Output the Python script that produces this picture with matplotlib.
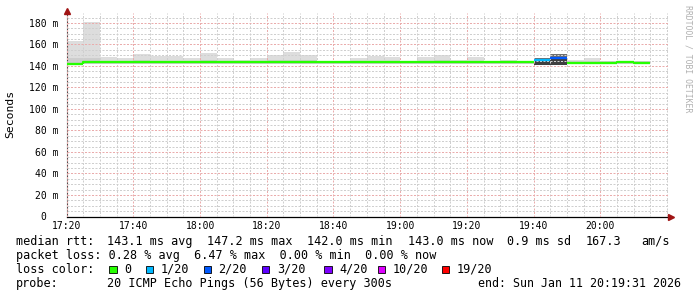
import matplotlib
matplotlib.use('Agg')
import matplotlib.pyplot as plt
from matplotlib.patches import Rectangle
import matplotlib.dates as mdates
import pandas as pd

plt.rcParams['font.family'] = 'DejaVu Sans Mono'

# --- data (5 minute bins from 17:20) ---
median_ms = [142.3, 143.3, 143.3, 143.3, 143.3, 143.3, 143.3, 143.3, 143.3, 143.3,
             143.3, 143.3, 143.3, 143.3, 143.3, 143.3, 143.3, 143.3, 143.3, 143.3,
             143.3, 143.3, 143.3, 143.3, 143.3, 143.3, 143.3, 143.3, 146.0, 147.2,
             142.6, 142.6, 142.6, 143.4, 143.1]
loss_count = [0, 0, 0, 0, 0, 0, 0, 0, 0, 0,
              0, 0, 0, 0, 0, 0, 0, 0, 0, 0,
              0, 0, 0, 0, 0, 0, 0, 0, 1, 2,
              0, 0, 0, 0, 0]
smoke_min = [141.6, 142.0, 142.0, 142.0, 142.0, 142.0, 142.0, 142.0, 142.0, 142.0,
             142.0, 142.0, 142.0, 142.0, 142.0, 142.0, 142.0, 142.0, 142.0, 142.0,
             142.0, 142.0, 142.0, 142.0, 142.0, 142.0, 142.0, 142.0, 141.3, 141.3,
             141.8, 141.8, 141.8, 142.0, 142.0]
smoke_mid = [147.0, 147.5, 145.0, 145.0, 145.5, 145.0, 145.0, 145.0, 145.5, 145.0,
             144.8, 145.0, 145.5, 145.5, 145.5, 144.5, 144.3, 145.0, 145.0, 145.0,
             144.3, 145.0, 145.5, 144.8, 145.0, 144.3, 144.8, 144.3, 145.0, 147.2,
             144.5, 145.0, 144.5, 144.3, 144.5]
smoke_max = [163.0, 181.0, 148.0, 147.0, 151.0, 149.0, 149.0, 147.0, 152.0, 147.0,
             146.0, 147.0, 150.0, 153.0, 150.5, 145.0, 144.5, 147.0, 149.0, 148.0,
             144.5, 148.0, 150.5, 146.0, 148.0, 144.5, 146.0, 144.5, 147.0, 151.0,
             145.5, 147.5, 145.0, 144.5, 145.0]

tick_labels = ['17:20', '17:40', '18:00', '18:20', '18:40', '19:00', '19:20', '19:40', '20:00']
y_ticks = [0, 20, 40, 60, 80, 100, 120, 140, 160, 180]
y_tick_labels = ['0  ', '20 m', '40 m', '60 m', '80 m', '100 m', '120 m', '140 m', '160 m', '180 m']

loss_levels = [0, 1, 2, 3, 4, 10, 19]
loss_labels = ['0', '1/20', '2/20', '3/20', '4/20', '10/20', '19/20']
loss_colors = ['#26ff00', '#00b8ff', '#0059ff', '#5e00ff', '#7e00ff', '#dd00ff', '#ff0000']

rtt_parts = ['median rtt:', '143.1 ms avg', '147.2 ms max', '142.0 ms min',
             '143.0 ms now', '0.9 ms sd', '167.3', 'am/s']

day = '2026-01-11 '
t0 = pd.Timestamp(day + '17:20')
bins = pd.date_range(t0, periods=len(median_ms), freq='5min')
step = pd.Timedelta(minutes=5)


def loss_color(n):
    col = loss_colors[0]
    for lvl, c in zip(loss_levels, loss_colors):
        if n >= lvl:
            col = c
    return col


W, H = 697, 297
fig = plt.figure(figsize=(W / 100, H / 100), dpi=100)
left, right, top, bottom = 66.7, 669.0, 13.0, 216.5
ax = fig.add_axes([left / W, 1 - bottom / H, (right - left) / W, (bottom - top) / H])

x0 = mdates.date2num(bins)
width = mdates.date2num(t0 + step) - mdates.date2num(t0)

# smoke (outer range + darker inner band)
for i in range(len(median_ms)):
    if loss_count[i] > 0:
        outer, inner = '#6e6e6e', '#404040'
    else:
        outer, inner = '#dddddd', '#cdcdcd'
    ax.bar(x0[i], smoke_max[i] - smoke_min[i], width=width, bottom=smoke_min[i],
           align='edge', color=outer, linewidth=0, zorder=1)
    ax.bar(x0[i], smoke_mid[i] - smoke_min[i], width=width, bottom=smoke_min[i],
           align='edge', color=inner, linewidth=0, zorder=1.1)

# median line coloured by loss
for i in range(len(median_ms)):
    c = loss_color(loss_count[i])
    xs = [x0[i], x0[i] + width]
    ys = [median_ms[i], median_ms[i]]
    if i > 0 and loss_count[i] == loss_count[i - 1]:
        xs = [x0[i], x0[i], x0[i] + width]
        ys = [median_ms[i - 1], median_ms[i], median_ms[i]]
    ax.plot(xs, ys, color=c, linewidth=1.65, solid_capstyle='butt', zorder=3)

# axes & grid
ax.set_xlim(mdates.date2num(t0), mdates.date2num(t0 + pd.Timedelta(minutes=180.6)))
ax.set_ylim(0, 189.3)
ax.set_xticks([mdates.date2num(pd.Timestamp(day + t)) for t in tick_labels])
ax.set_xticklabels(tick_labels)
ax.xaxis.set_minor_locator(mdates.MinuteLocator(byminute=range(0, 60, 5)))
ax.set_yticks(y_ticks)
ax.set_yticklabels(y_tick_labels)
ax.yaxis.set_minor_locator(plt.MultipleLocator(5))
ax.tick_params(which='both', length=0, labelsize=7, colors='black')
ax.tick_params(axis='x', pad=3)
ax.tick_params(axis='y', pad=6)

ax.set_axisbelow(False)
ax.grid(which='minor', color='#cfcfcf', linestyle=(0, (2, 1.5)), linewidth=0.72)
ax.grid(which='major', color='#eaacac', linestyle=(0, (2, 1.5)), linewidth=0.72)

for s in ['top', 'right']:
    ax.spines[s].set_visible(False)
ax.spines['left'].set_color('#505050')
ax.spines['left'].set_linewidth(0.8)
ax.spines['bottom'].set_color('black')
ax.spines['bottom'].set_linewidth(0.9)

# arrows at axis ends
ax.plot([0], [1.012], marker='^', markersize=4.5, color='#a01414',
        transform=ax.transAxes, clip_on=False, zorder=5)
ax.plot([1.0035], [0], marker='>', markersize=4.5, color='#a01414',
        transform=ax.transAxes, clip_on=False, zorder=5)

fig.text(10.5 / W, 1 - 114 / H, 'Seconds', rotation=90, ha='center', va='center',
         fontsize=8.2)
fig.text(688 / W, 1 - 5 / H, 'RRDTOOL / TOBI OETIKER', rotation=270, ha='center',
         va='top', fontsize=5.9, color='#b0b0b0')

# legend / summary lines
fs = 8.5
rtt_x = [16, 107.3, 207.3, 306.7, 407.7, 506.7, 586, 641.7]
for px, txt in zip(rtt_x, rtt_parts):
    fig.text(px / W, 1 - 245 / H, txt, fontsize=fs, va='baseline')
fig.text(16 / W, 1 - 259 / H,
         'packet loss: 0.28 % avg  6.47 % max  0.00 % min  0.00 % now',
         fontsize=fs, va='baseline')
fig.text(16 / W, 1 - 273 / H, 'loss color:', fontsize=fs, va='baseline')
box_x = [109, 145.5, 203.5, 261.7, 324, 377.8, 441.8]
for bx, lab, col in zip(box_x, loss_labels, loss_colors):
    fig.add_artist(Rectangle((bx / W, 1 - 273 / H), 7.5 / W, 7.5 / H,
                             transform=fig.transFigure, facecolor=col,
                             edgecolor='black', linewidth=0.6))
    fig.text((bx + 15) / W, 1 - 273 / H, lab, fontsize=fs, va='baseline')
fig.text(16 / W, 1 - 287 / H, 'probe:', fontsize=fs, va='baseline')
fig.text(107.3 / W, 1 - 287 / H, '20 ICMP Echo Pings (56 Bytes) every 300s',
         fontsize=fs, va='baseline')
fig.text(478.3 / W, 1 - 287 / H, 'end: Sun Jan 11 20:19:31 2026',
         fontsize=8.35, va='baseline')

fig.savefig('out.png', dpi=100)
